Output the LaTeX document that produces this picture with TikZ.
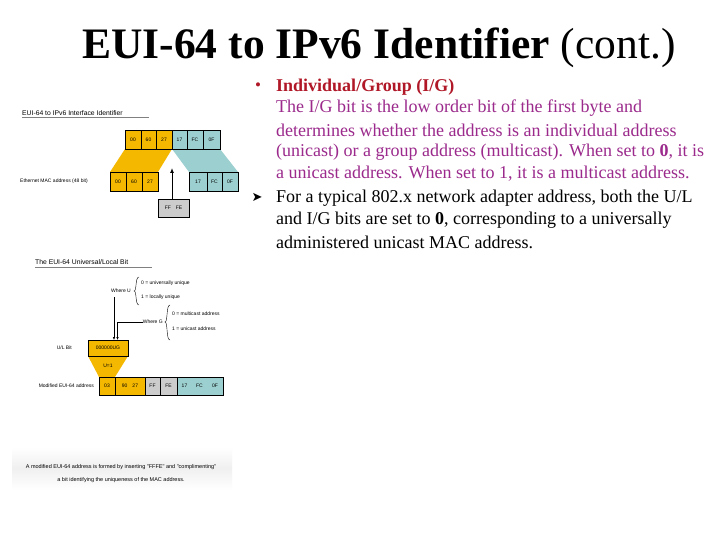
\documentclass[tikz,border=0pt]{standalone}
\usepackage{fontspec}
\usetikzlibrary{arrows.meta}
\setmainfont{Liberation Serif}
\newfontfamily\symf{DejaVu Sans}
\newfontfamily\fsans{Liberation Sans}
\definecolor{yel}{HTML}{F5B800}
\definecolor{teal2}{HTML}{9CCFCF}
\definecolor{gry}{HTML}{CCCCCC}
\definecolor{hdred}{HTML}{B01828}
\definecolor{purp}{HTML}{9B2A8C}
\begin{document}
\begin{tikzpicture}[x=1pt,y=-1pt,
  bx/.style={draw=black,line width=0.4pt,minimum height=0pt,inner sep=0pt,font=\fsans\fontsize{5}{6}\selectfont},
  sm/.style={font=\fsans\fontsize{5}{6}\selectfont,inner sep=0pt},
  body/.style={anchor=west,inner sep=0pt,font=\fontsize{18}{20}\selectfont}]
\useasboundingbox (0,0) rectangle (720,540);
\fill[white] (0,0) rectangle (720,540);
% Title
\node[inner sep=0pt,font=\fontsize{43.5}{46}\selectfont] (title) at (379,48) {\textbf{EUI-64 to IPv6 Identifier} (cont.)};
% right text
\node[inner sep=0pt,text=hdred,font=\fontsize{17}{18}\selectfont] (b1) at (258,87) {•};
\node[body,text=hdred] (l1) at (276,87) {\textbf{Individual/Group (I/G)}};
\node[body,text=purp] (l2) at (276,108) {The I/G bit is the low order bit of the first byte and};
\node[body,text=purp] (l3) at (276,130) {determines whether the address is an individual address};
\node[body,text=purp] (l4) at (276,152) {(unicast) or a group address (multicast). When set to \textbf{0}, it is};
\node[body,text=purp] (l5) at (276,174) {a unicast address. When set to 1, it is a multicast address.};
\node[inner sep=0pt,font=\symf\fontsize{13}{14}\selectfont] (b2) at (257,197) {➤};
\node[body] (l6) at (276,198) {For a typical 802.x network adapter address, both the U/L};
\node[body] (l7) at (276,220) {and I/G bits are set to \textbf{0}, corresponding to a universally};
\node[body] (l8) at (276,242) {administered unicast MAC address.};
% Figure 1
\node[sm,anchor=west,font=\fsans\fontsize{6.8}{7}\selectfont] (t1) at (22,113) {EUI-64 to IPv6 Interface Identifier};
\draw[gray,line width=0.3pt] (22,117.5) -- (149,117.5);
\fill[yel] (125,149) -- (172,149) -- (158,172) -- (110,172) -- cycle;
\fill[teal2] (172,149) -- (220,149) -- (238,172) -- (189,172) -- cycle;
\foreach \a/\b/\t/\c [count=\i] in {125/141/00/yel,141/156/60/yel,156/172/27/yel,172/187/17/teal2,187/203/FC/teal2,203/220/0F/teal2}
  \node[bx,fill=\c,minimum width=(\b-\a)*1pt,minimum height=19pt] (u\i) at ({(\a+\b)/2},139.5) {\t};
\foreach \a/\b/\t/\c [count=\i] in {110/126/00/yel,126/142/60/yel,142/158/27/yel,189/207/17/teal2,207/222/FC/teal2,222/238/0F/teal2}
  \node[bx,fill=\c,minimum width=(\b-\a)*1pt,minimum height=19pt] (m\i) at ({(\a+\b)/2},181.5) {\t};
\node[bx,fill=gry,minimum width=31pt,minimum height=18pt] (ff) at (173.5,208) {FF\quad FE};
\coordinate (tip) at (172,168);
\draw[-{Latex[length=5pt,width=4pt]},line width=0.9pt] (ff.north -| tip) -- (tip);
\node[sm,anchor=west] (eth) at (20,181) {Ethernet MAC address (48 bit)};
% Figure 2
\node[sm,anchor=west,font=\fsans\fontsize{6.8}{7}\selectfont] (t2) at (35,262) {The EUI-64 Universal/Local Bit};
\draw[gray,line width=0.3pt] (35,267) -- (152,267);
\node[sm,anchor=east] (wu) at (131,291) {Where U};
\draw[line width=0.4pt] (139,277) .. controls (135,277) and (137,291) .. (134,291) .. controls (137,291) and (135,305) .. (139,305);
\node[sm,anchor=west] (u0) at (141,283) {0 = universally unique};
\node[sm,anchor=west] (u1) at (141,297) {1 = locally unique};
\node[sm,anchor=east] (wg) at (163,322) {Where G};
\draw[line width=0.4pt] (170,305) .. controls (166,305) and (168,322) .. (165,322) .. controls (168,322) and (166,340) .. (170,340);
\node[sm,anchor=west] (g0) at (172,314) {0 = multicast address};
\node[sm,anchor=west] (g1) at (172,329) {1 = unicast address};
\fill[yel] (88,356) -- (128,356) -- (115,377) -- (99,377) -- cycle;
\node[bx,fill=yel,minimum width=40pt,minimum height=16pt] (ul) at (108,348) {000000UG};
\node[sm] (u1b) at (108,366) {U=1};
\node[sm,anchor=east] (ulb) at (72,348) {U/L Bit};
\draw[-{Latex[length=3pt,width=2.5pt]},line width=0.5pt] (114,297) -- (114,340);
\draw[-{Latex[length=3pt,width=2.5pt]},line width=0.5pt] (wg.west) -- (117.5,322) -- (117.5,340);
\foreach \a/\b/\t/\c [count=\i] in {99/115/03/yel,115/145/{90\quad 27}/yel,145/160/FF/gry,160/177/FE/gry,177/192/17/teal2,192/207/FC/teal2,207/223/0F/teal2}
  \node[bx,fill=\c,draw=none,minimum width=(\b-\a)*1pt,minimum height=18pt] (e\i) at ({(\a+\b)/2},386) {\t};
\draw[line width=0.4pt] (99,377) rectangle (223,395);
\foreach \x in {115,145,160,177} \draw[line width=0.4pt] (\x,377) -- (\x,395);
\node[sm,anchor=east] (mod) at (94,386) {Modified EUI-64 address};
% caption
\shade[top color=white,bottom color=gray!12] (12,447) rectangle (232,468);
\shade[top color=gray!12,bottom color=white] (12,468) rectangle (232,490);
\node[sm,font=\fsans\fontsize{5.5}{6}\selectfont] (c1) at (121,467) {A modified EUI-64 address is formed by inserting "FFFE" and "complimenting"};
\node[sm,font=\fsans\fontsize{5.5}{6}\selectfont] (c2) at (121,480) {a bit identifying the uniqueness of the MAC address.};
\end{tikzpicture}
\end{document}
